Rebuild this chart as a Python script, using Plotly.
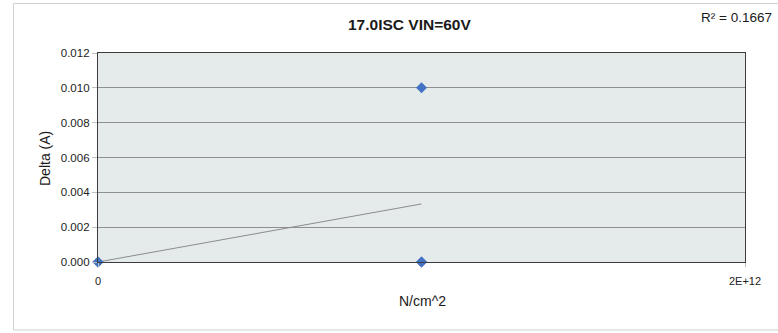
import numpy as np
import plotly.graph_objects as go

# Measurements: pressure (N/cm^2) vs. current delta (A)
pressure = [0, 0, 1e12, 1e12, 1e12]
delta_a = [0.0, 0.0, 0.010, 0.0, 0.0]

y_ticks = [0.000, 0.002, 0.004, 0.006, 0.008, 0.010, 0.012]
x_ticks = [0, 2e12]
x_tick_text = ["0", "2E+12"]

title_text = "17.0ISC VIN=60V"
x_title = "N/cm^2"
y_title = "Delta (A)"

# Linear trendline (least squares) and its coefficient of determination
x = np.array(pressure, dtype=float)
y = np.array(delta_a, dtype=float)
slope, intercept = np.polyfit(x, y, 1)
fit = slope * x + intercept
r2 = 1 - np.sum((y - fit) ** 2) / np.sum((y - y.mean()) ** 2)
trend_x = [x.min(), x.max()]
trend_y = [slope * v + intercept for v in trend_x]

FONT = "Liberation Sans"
L, R, T, B = 98, 33, 53, 71
W, H = 778, 333
pw, ph = W - L - R, H - T - B


def px_x(p):
    return (p - L) / pw


def px_y(p):
    return (H - B - p) / ph


def label(text, cx, cy, size, angle=0, xanchor="center"):
    return dict(text=text, xref="paper", yref="paper", x=px_x(cx), y=px_y(cy),
                xanchor=xanchor, yanchor="middle", textangle=angle,
                showarrow=False, font=dict(family=FONT, size=size, color="#1a1a1a"))


fig = go.Figure()
fig.add_trace(go.Scatter(
    x=trend_x, y=trend_y, mode="lines",
    line=dict(color="#8c8c8c", width=1),
    hoverinfo="skip", showlegend=False,
))
fig.add_trace(go.Scatter(
    x=pressure, y=delta_a, mode="markers",
    marker=dict(symbol="diamond", size=8.5, color="#4472C4"),
    showlegend=False, cliponaxis=False,
))

fig.update_layout(
    width=W, height=H,
    margin=dict(l=L, r=R, t=T, b=B),
    paper_bgcolor="white",
    plot_bgcolor="#E5EBEB",
    font=dict(family=FONT, size=11.5, color="#222"),
    xaxis=dict(
        range=[0, 2e12], tickvals=x_ticks, ticktext=x_tick_text,
        showgrid=False, zeroline=False,
        showline=True, mirror=True, linecolor="#3c3c3c", linewidth=1.3,
        ticks="outside", ticklen=4, tickcolor="#bfbfbf",
        ticklabelstandoff=5,
        tickfont=dict(family=FONT, size=11, color="#222"),
    ),
    yaxis=dict(
        range=[0, 0.012], tickvals=y_ticks, tickformat=".3f",
        showgrid=True, gridcolor="#8f8f8f", gridwidth=1, zeroline=False,
        showline=True, mirror=True, linecolor="#3c3c3c", linewidth=1.3,
        ticks="outside", ticklen=5, tickcolor="#bfbfbf",
        tickfont=dict(family=FONT, size=11.5, color="#222"),
    ),
    annotations=[
        label("<b>%s</b>" % title_text, 409, 25, 15.5),
        label(x_title, 422, 301, 14),
        label(y_title, 45, 159, 14, angle=-90),
        label("R² = %.4f" % r2, 774, 17, 13.5, xanchor="right"),
    ],
    shapes=[
        dict(type="rect", xref="paper", yref="paper", layer="below",
             x0=px_x(13.5), x1=px_x(790), y0=px_y(330), y1=px_y(3.5),
             line=dict(color="#d0d0d0", width=1), fillcolor="rgba(0,0,0,0)"),
    ],
)

fig.write_html("out.html")
